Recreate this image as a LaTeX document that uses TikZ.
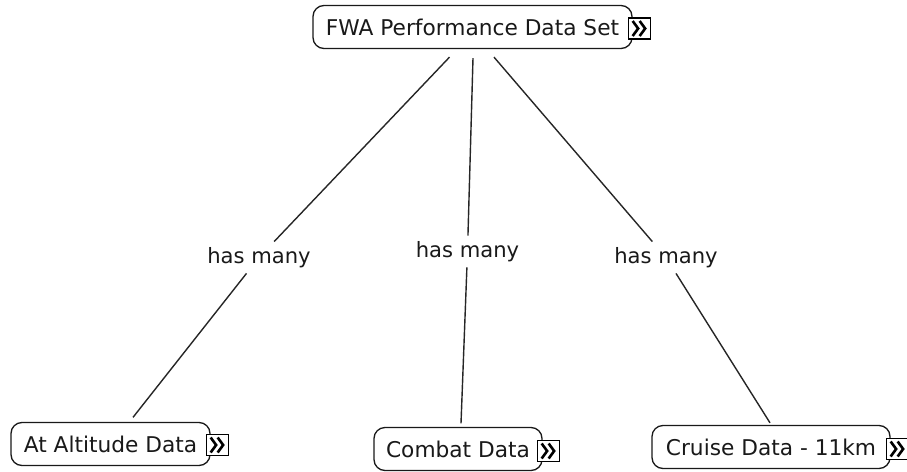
\documentclass[tikz,border=0pt]{standalone}
\usepackage{fontspec}
\setmainfont{DejaVu Sans}
\begin{document}
\begin{tikzpicture}[x=1pt,y=-1pt,
  concept/.style={draw=black!90, line width=1.3pt, rounded corners=11pt, fill=white,
    minimum height=43pt, inner sep=0pt, text=black!90,
    font=\fontsize{21.7}{25}\selectfont},
  linkword/.style={fill=white, inner sep=5.5pt, text=black!90,
    font=\fontsize{21.1}{25}\selectfont},
  conn/.style={draw=black!85, line width=1.4pt},
  iconbox/.style={draw=black, fill=white, line width=1.4pt, minimum width=22pt,
    minimum height=21pt, inner sep=0pt},
  chevrons/.pic={
    \draw[line width=2.6pt, line join=miter, line cap=butt] (-7,-7.5) -- (-1.5,0) -- (-7,7.5);
    \draw[line width=2.6pt, line join=miter, line cap=butt] (0,-7.5) -- (5.5,0) -- (0,7.5);
  }]
\useasboundingbox (0,0) rectangle (907,471);

% concepts
\node[concept, minimum width=319pt] (top) at (472.5,27) {FWA Performance Data Set};
\node[concept, minimum width=199pt] (alt) at (110.5,444) {At Altitude Data};
\node[concept, minimum width=168pt] (combat) at (458,449) {Combat Data};
\node[concept, minimum width=238pt] (cruise) at (771,447) {Cruise Data - 11km};

% link words
\node[linkword] (l1) at (259,257.5) {has many};
\node[linkword] (l2) at (467.5,251.5) {has many};
\node[linkword] (l3) at (666,257.5) {has many};

% connector end points
\coordinate (t1) at ([xshift=-23pt,yshift=-8pt]top.south);
\coordinate (t2) at ([xshift=0.5pt,yshift=-9pt]top.south);
\coordinate (t3) at ([xshift=21.5pt,yshift=-8pt]top.south);
\coordinate (b1) at ([xshift=22.5pt,yshift=4.5pt]alt.north);
\coordinate (b2) at ([xshift=3pt,yshift=3.5pt]combat.north);
\coordinate (b3) at ([xshift=-1pt,yshift=2pt]cruise.north);

% connectors
\draw[conn] (t1) -- (l1);
\draw[conn] (l1) -- (b1);
\draw[conn] (t2) -- (l2);
\draw[conn] (l2) -- (b2);
\draw[conn] (t3) -- (l3);
\draw[conn] (l3) -- (b3);

% expand icons
\node[iconbox] (itop) at ([xshift=7pt,yshift=-1.5pt]top.east) {};
\pic at (itop) {chevrons};
\node[iconbox] (ialt) at ([xshift=7pt,yshift=-1pt]alt.east) {};
\pic at (ialt) {chevrons};
\node[iconbox] (icombat) at ([xshift=6pt,yshift=-2pt]combat.east) {};
\pic at (icombat) {chevrons};
\node[iconbox] (icruise) at ([xshift=7pt,yshift=-2pt]cruise.east) {};
\pic at (icruise) {chevrons};
\end{tikzpicture}
\end{document}
